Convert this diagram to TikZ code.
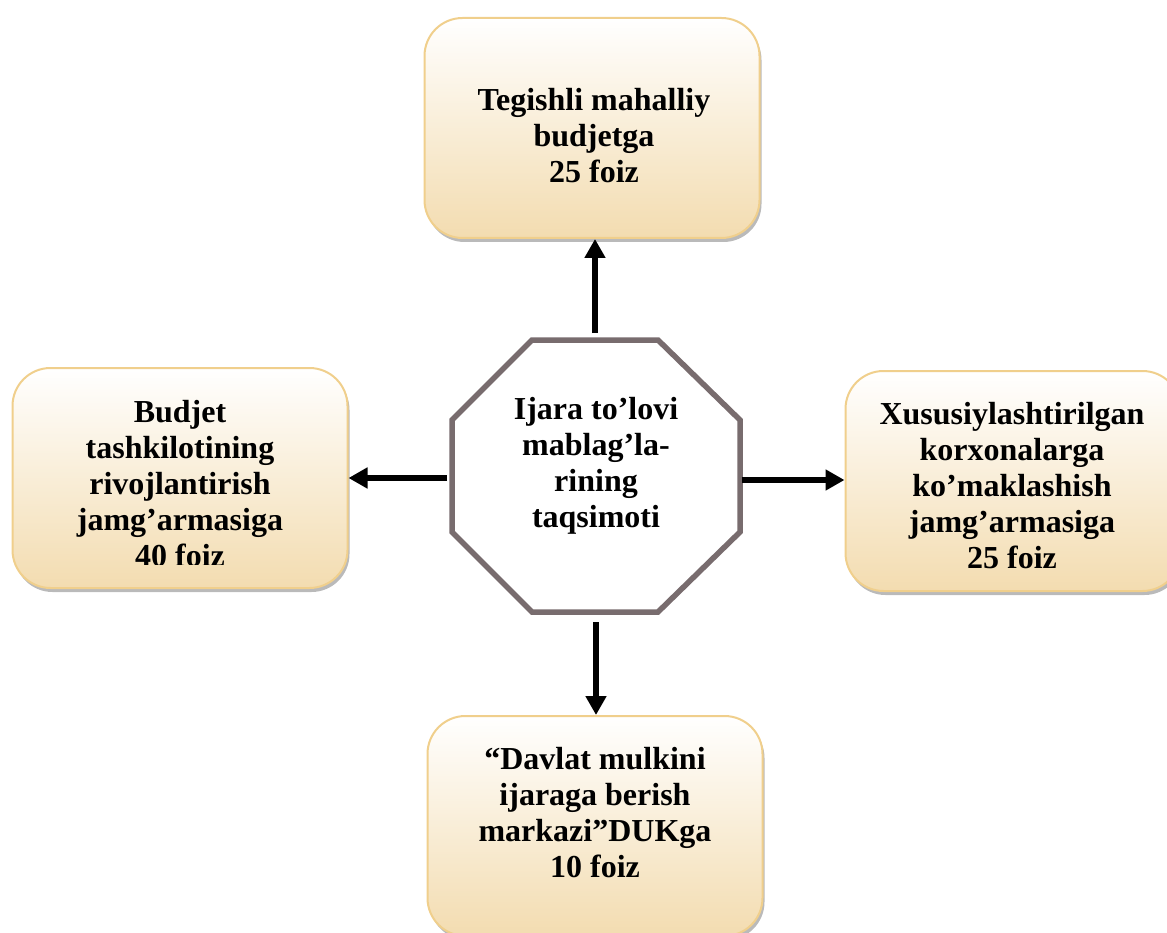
\documentclass[tikz,border=0pt]{standalone}
\usepackage{fontspec}
\setmainfont{Liberation Serif}
\usetikzlibrary{arrows.meta,shadows}
\definecolor{boxline}{RGB}{240,207,140}
\definecolor{boxbot}{RGB}{243,220,176}
\definecolor{octline}{RGB}{120,108,110}
\begin{document}
\begin{tikzpicture}[x=1pt,y=-1pt,
  box/.style={draw=boxline, line width=2pt, rounded corners=38pt,
    top color=white, bottom color=boxbot,
    minimum width=335pt, minimum height=220pt, inner sep=0pt,
    drop shadow={shadow xshift=2pt, shadow yshift=-4pt, fill=black!60, opacity=0.45}},
  txt/.style={align=center, font=\bfseries\fontsize{32}{36}\selectfont, inner sep=0pt},
  arr/.style={line width=5.5pt, -{Triangle[length=19pt,width=20pt]}}]
\useasboundingbox (0,0) rectangle (1167,933);
% boxes
\node[box] (top) at (592,128) {};
\node[box] (left) at (180,478) {};
\node[box] (right) at (1013,481) {};
\node[box] (bottom) at (595,826) {};
% box texts
\node[txt] (toptext) at (594,136) {Tegishli mahalliy\\budjetga\\25 foiz};
\begin{scope}
  \clip (0,0) rectangle (1167,564);
  \node[txt] (lefttext) at (180,484) {Budjet\\tashkilotining\\rivojlantirish\\jamg’armasiga\\40 foiz};
\end{scope}
\node[txt] (righttext) at (1012,486) {Xususiylashtirilgan\\korxonalarga\\ko’maklashish\\jamg’armasiga\\25 foiz};
\node[txt] (bottomtext) at (595,813) {“Davlat mulkini\\ijaraga berish\\markazi”DUKga\\10 foiz};
% octagon
\draw[octline, line width=5.5pt, fill=white]
  (532,340) -- (658,340) -- (740,420) -- (740,532) -- (658,612) -- (532,612) -- (452,532) -- (452,420) -- cycle;
\node[txt] (oct) at (596,466) {Ijara to’lovi\\mablag’la-\\rining\\taqsimoti};
\coordinate (oN) at (595,333);
\coordinate (oS) at (596,622);
\coordinate (oW) at (447,478);
\coordinate (oE) at (742,480);
% arrows
\draw[arr] (oN) -- (oN |- top.south);
\draw[arr] (oW) -- (oW -| left.east);
\draw[arr] (oE) -- (oE -| right.west);
\draw[arr] (oS) -- (oS |- bottom.north);
\end{tikzpicture}
\end{document}
